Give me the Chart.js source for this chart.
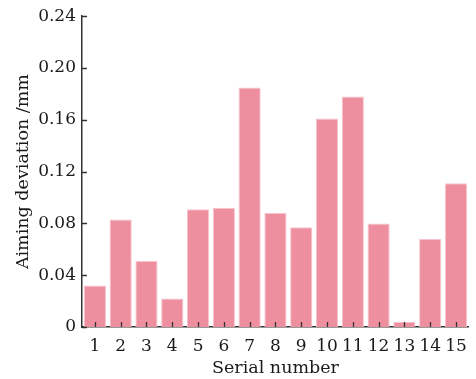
<!DOCTYPE html>
<html>
<head>
<meta charset="utf-8">
<script src="https://cdn.jsdelivr.net/npm/chart.js@4/dist/chart.umd.min.js"></script>
<style>
  html, body { margin: 0; padding: 0; background: #fff; }
  .chart-box { width: 476px; height: 379px; }
</style>
</head>
<body>
<div class="chart-box"><canvas id="c"></canvas></div>
<script>
// Desviacion de punteria por numero de serie
const serials = ['1', '2', '3', '4', '5', '6', '7', '8', '9', '10', '11', '12', '13', '14', '15']
const deviation = [0.032, 0.083, 0.051, 0.022, 0.091, 0.092, 0.185, 0.088, 0.077, 0.161, 0.178, 0.080, 0.004, 0.068, 0.111]
const yTickLabels = ['0', '0.04', '0.08', '0.12', '0.16', '0.20', '0.24']

const FONT = { family: '"DejaVu Serif", serif', size: 17 }
const TITLE_FONT = { family: '"DejaVu Serif", serif', size: 17.5 }
const INK = '#1a1a1a'

// ticks hacia dentro, dibujados encima de las barras
const inwardTicks = {
  id: 'inwardTicks',
  afterDatasetsDraw(chart) {
    const { ctx, scales: { x, y } } = chart
    ctx.save()
    ctx.strokeStyle = '#333'
    ctx.lineWidth = 1.3
    ctx.beginPath()
    y.ticks.forEach((t) => {
      const py = Math.round(y.getPixelForValue(t.value)) + 0.5
      ctx.moveTo(y.right, py)
      ctx.lineTo(y.right + 5, py)
    })
    x.ticks.forEach((t, i) => {
      const px = Math.round(x.getPixelForTick(i)) + 0.5
      ctx.moveTo(px, x.top)
      ctx.lineTo(px, x.top - 5)
    })
    ctx.stroke()
    ctx.restore()
  }
}

new Chart(document.getElementById('c'), {
  type: 'bar',
  data: {
    labels: serials,
    datasets: [{
      data: deviation,
      backgroundColor: '#ee8fa0',
      borderColor: '#f7c3cc',
      borderWidth: 1,
      barPercentage: 0.86,
      categoryPercentage: 1
    }]
  },
  options: {
    responsive: true,
    maintainAspectRatio: false,
    animation: false,
    layout: { padding: { left: 0, top: 15, right: 6, bottom: 0 } },
    plugins: { legend: { display: false }, tooltip: { enabled: false } },
    scales: {
      x: {
        grid: { display: false, drawTicks: false },
        border: { display: true, color: '#333', width: 1.5 },
        ticks: { color: INK, font: FONT, padding: 9, maxRotation: 0, autoSkip: false },
        title: { display: true, text: 'Serial number', color: INK, font: TITLE_FONT, padding: { top: 0, bottom: 0 } },
        afterFit: (s) => { s.height = 52 }
      },
      y: {
        min: 0,
        max: 0.24,
        grid: { display: false, drawTicks: false },
        border: { display: true, color: '#333', width: 1.5 },
        ticks: {
          stepSize: 0.04,
          color: INK,
          font: FONT,
          padding: 6,
          callback: (v, i) => yTickLabels[i]
        },
        title: { display: true, text: 'Aiming deviation /mm', color: INK, font: TITLE_FONT, padding: { top: 13, bottom: 0 } },
        afterFit: (s) => { s.width = 82 }
      }
    }
  },
  plugins: [inwardTicks]
})
</script>
</body>
</html>
